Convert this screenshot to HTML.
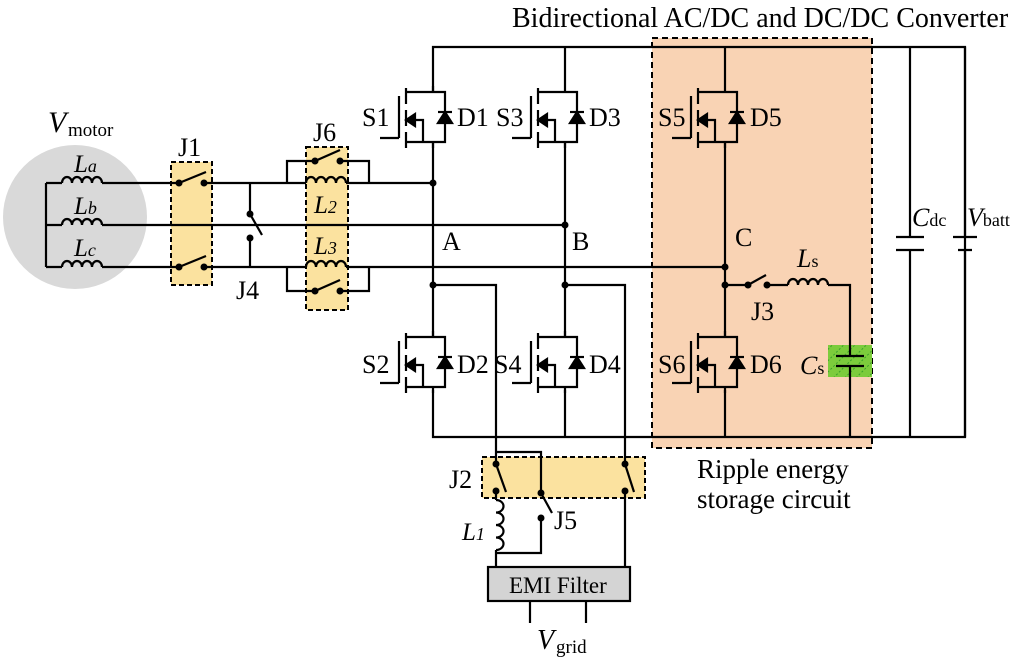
<!DOCTYPE html>
<html><head><meta charset="utf-8"><style>
html,body{margin:0;padding:0;background:#fff}
svg{display:block}
text{font-family:"Liberation Serif",serif;fill:#000}
</style></head><body>
<svg width="1024" height="659" viewBox="0 0 1024 659" xmlns="http://www.w3.org/2000/svg">
<defs>
<pattern id="hatch" width="8" height="8" patternUnits="userSpaceOnUse" patternTransform="rotate(45)">
<rect width="8" height="8" fill="#7ccc3c"/><line x1="0" y1="0" x2="0" y2="8" stroke="#3aa02a" stroke-width="2" stroke-dasharray="2,2"/>
</pattern>
<g id="mos" fill="none" stroke="#000" stroke-width="2.2">
<path d="M0,-6 V0 H-27 M0,0 H12 V50 H-27 M0,50 V56"/>
<path d="M-27,-4 V12 M-27,18 V34 M-27,40 V56"/>
<path d="M-34,4 V46 M-53,46 H-34"/>
<path d="M-19,28 H-10 V50"/>
<polygon points="-27,28 -18,22 -18,34" fill="#000"/>
<polygon points="5,31 19,31 12,20" fill="#000"/>
<path d="M5,20 H19"/>
</g>
<g id="ind" fill="none" stroke="#000" stroke-width="2.2">
<path d="M0,0 a5,6 0 0 1 10,0 a5,6 0 0 1 10,0 a5,6 0 0 1 10,0 a5,6 0 0 1 10,0"/>
</g>
</defs>

<circle cx="75" cy="217" r="72" fill="#d9d9d9"/>
<rect x="652" y="38" width="220" height="410" fill="#f9d3b4" stroke="#000" stroke-width="2" stroke-dasharray="6,4"/>
<rect x="171" y="162" width="41" height="123" fill="#fbe29f" stroke="#000" stroke-width="2" stroke-dasharray="5,3"/>
<rect x="306" y="147" width="42" height="163" fill="#fbe29f" stroke="#000" stroke-width="2" stroke-dasharray="5,3"/>
<rect x="482" y="457" width="163" height="41" fill="#fbe29f" stroke="#000" stroke-width="2" stroke-dasharray="5,3"/>
<rect x="828" y="345" width="44" height="32" fill="url(#hatch)"/>
<rect x="488" y="567" width="142" height="34" fill="#d4d4d4" stroke="#000" stroke-width="2.2"/>

<g fill="none" stroke="#000" stroke-width="2.2">
<path d="M433,92 V47 H965 V437 H433 V390"/>
<path d="M565,86 V47 M565,437 V390 M725,86 V47 M725,437 V390"/>
<path d="M433,142 V337 M565,142 V337 M725,142 V337"/>
<path d="M46,183 V267 M46,183 H62 M46,225 H62 M46,267 H62"/>
<path d="M102,183 H179 M204,183 H306 M346,183 H433"/>
<path d="M102,225 H565"/>
<path d="M102,267 H179 M204,267 H306 M346,267 H725"/>
<path d="M179,183 L206,172 M179,267 L206,256"/>
<path d="M250,183 V214 L262,235 M250,238 V267"/>
<path d="M287,183 V161 H315 L340,150 M340,161 H369 V183"/>
<path d="M287,267 V291 H315 L340,280 M340,291 H369 V267"/>
<path d="M433,285 H496 V464 M565,285 H625 V464"/>
<path d="M496,464 L506,492 M625,464 L634,492"/>
<path d="M496,491 V500 M496,550 V567 M625,491 V567"/>
<path d="M496,452 H541 V493 L552,513 M541,518 V553 H496"/>
<path d="M530,601 V623 M586,601 V623"/>
<path d="M725,285 H748 M748,285 L766,275 M767,285 H788 M828,285 H850 V356 M850,366 V437"/>
<path d="M836,356 H864 M836,366 H864"/>
<path d="M910,47 V237 M896,237 H924 M896,250 H924 M910,250 V437"/>
<path d="M965,47 V237 M953,237 H977 M958,250 H972 M965,250 V437"/>
</g>
<use href="#ind" x="62" y="183"/>
<use href="#ind" x="62" y="225"/>
<use href="#ind" x="62" y="267"/>
<use href="#ind" x="306" y="183"/>
<use href="#ind" x="306" y="267"/>
<use href="#ind" x="788" y="285"/>
<g fill="none" stroke="#000" stroke-width="2.2"><path d="M496,500 a6,5 0 0 1 0,12.5 a6,5 0 0 1 0,12.5 a6,5 0 0 1 0,12.5 a6,5 0 0 1 0,12.5"/></g>
<use href="#mos" x="433" y="92"/>
<use href="#mos" x="565" y="92"/>
<use href="#mos" x="725" y="92"/>
<use href="#mos" x="433" y="337"/>
<use href="#mos" x="565" y="337"/>
<use href="#mos" x="725" y="337"/>
<g fill="#000">
<circle cx="433" cy="183" r="3.5"/><circle cx="565" cy="225" r="3.5"/><circle cx="725" cy="267" r="3.5"/>
<circle cx="433" cy="285" r="3.5"/><circle cx="565" cy="285" r="3.5"/><circle cx="725" cy="285" r="3.5"/>
<circle cx="179" cy="183" r="3.5"/><circle cx="204" cy="183" r="3.5"/>
<circle cx="179" cy="267" r="3.5"/><circle cx="204" cy="267" r="3.5"/>
<circle cx="250" cy="214" r="3.5"/><circle cx="250" cy="238" r="3.5"/>
<circle cx="315" cy="161" r="3.5"/><circle cx="340" cy="161" r="3.5"/>
<circle cx="315" cy="291" r="3.5"/><circle cx="340" cy="291" r="3.5"/>
<circle cx="748" cy="285" r="3.5"/><circle cx="767" cy="285" r="3.5"/>
<circle cx="496" cy="464" r="3.5"/><circle cx="496" cy="491" r="3.5"/>
<circle cx="625" cy="464" r="3.5"/><circle cx="625" cy="491" r="3.5"/>
<circle cx="541" cy="493" r="3.5"/><circle cx="541" cy="518" r="3.5"/>
</g>
<g font-size="26">
<text x="512" y="27" font-size="28">Bidirectional AC/DC and DC/DC Converter</text>
<text x="48" y="132" font-style="italic" font-size="30">V</text><text x="68" y="136" font-size="19">motor</text>
<text x="74" y="172" font-style="italic" font-size="25">L<tspan font-size="18">a</tspan></text>
<text x="74" y="214" font-style="italic" font-size="25">L<tspan font-size="18">b</tspan></text>
<text x="74" y="256" font-style="italic" font-size="25">L<tspan font-size="18">c</tspan></text>
<text x="178" y="156">J1</text>
<text x="236" y="299">J4</text>
<text x="313" y="141">J6</text>
<text x="314" y="213" font-style="italic" font-size="25">L<tspan font-size="18">2</tspan></text>
<text x="314" y="254" font-style="italic" font-size="25">L<tspan font-size="18">3</tspan></text>
<text x="362" y="126">S1</text><text x="457" y="126">D1</text>
<text x="496" y="126">S3</text><text x="589" y="126">D3</text>
<text x="658" y="126">S5</text><text x="750" y="126">D5</text>
<text x="362" y="373">S2</text><text x="457" y="373">D2</text>
<text x="494" y="373">S4</text><text x="589" y="373">D4</text>
<text x="658" y="373">S6</text><text x="750" y="373">D6</text>
<text x="442" y="250">A</text><text x="572" y="250">B</text><text x="735" y="246">C</text>
<text x="751" y="320">J3</text>
<text x="797" y="267" font-style="italic">L<tspan font-size="18" font-style="normal">s</tspan></text>
<text x="800" y="374" font-style="italic">C<tspan font-size="18" font-style="normal">s</tspan></text>
<text x="912" y="226" font-style="italic">C<tspan font-size="18" font-style="normal">dc</tspan></text>
<text x="967" y="226" font-style="italic">V<tspan font-size="18" font-style="normal">batt</tspan></text>
<text x="697" y="478" font-size="27">Ripple energy</text>
<text x="697" y="508" font-size="27">storage circuit</text>
<text x="449" y="488">J2</text>
<text x="554" y="529">J5</text>
<text x="462" y="540" font-style="italic" font-size="25">L<tspan font-size="18">1</tspan></text>
<text x="509" y="593" font-size="23">EMI Filter</text>
<text x="537" y="649" font-style="italic" font-size="28">V</text><text x="556" y="653" font-size="19">grid</text>
</g>
</svg>
</body></html>
